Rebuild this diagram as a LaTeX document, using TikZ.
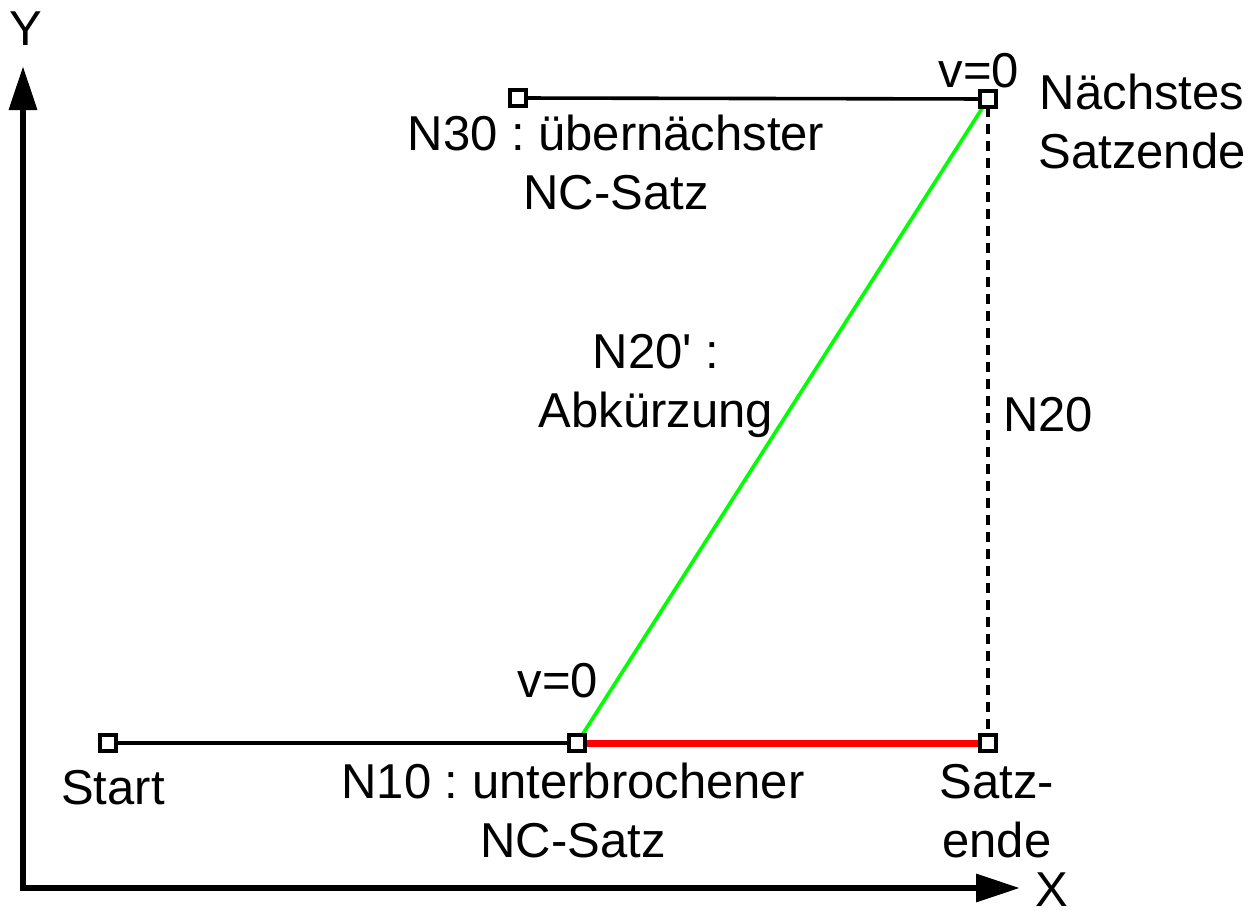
\documentclass[tikz,border=0pt]{standalone}
\usepackage{fontspec}
\setmainfont{Liberation Sans}
\usetikzlibrary{arrows.meta}
\frenchspacing
\begin{document}
\begin{tikzpicture}[x=1pt,y=-1pt,
  pt/.style={draw=black, fill=white, line width=3.6pt, minimum size=16pt, inner sep=0pt, outer sep=0pt, rectangle},
  lbl/.style={anchor=base, inner sep=0pt, align=center, font=\fontsize{49}{58.5}\selectfont\frenchspacing},
  blk/.style={line width=3.6pt, black},
  axis/.style={line width=6.5pt, line join=miter, {Triangle[length=44pt,width=27pt]}-{Triangle[length=44pt,width=27pt]}}
]
\useasboundingbox (0,0) rectangle (1255,910);
% axes
\coordinate (ytip) at (23,66);
\coordinate (corner) at (23,888);
\coordinate (xtip) at (1020,888);
\draw[axis] (ytip) -- (corner) -- (xtip);
\node[lbl] (ylab) at (26,45) {Y};
\node[lbl] (xlab) at (1052,906) {X};
% points
\node[pt] (start) at (108,743) {};
\node[pt] (n10) at (577,743) {};
\node[pt] (se) at (988,743) {};
\node[pt] (nse) at (988,99) {};
\node[pt] (n30) at (518,98) {};
% connectors
\draw[blk] (start) -- (n10);
\draw[red, line width=7pt] (n10) -- (se);
\draw[green, line width=3.6pt] (n10) -- (nse);
\draw[blk, dash pattern=on 10pt off 7pt] (nse) -- (se);
\draw[blk] (n30) -- (nse);
% redraw squares on top
\node[pt] at (start) {};
\node[pt] at (n10) {};
\node[pt] at (se) {};
\node[pt] at (nse) {};
\node[pt] at (n30) {};
% labels
\node[lbl] (lstart) at (113,804) {Start};
\node[lbl] (ln10) at (573,857) {N10 : unterbrochener\\NC-Satz};
\node[lbl] (lse) at (997,857) {Satz-\\ende};
\node[lbl] (lv1) at (558,697) {v=0};
\node[lbl] (lv2) at (979,87) {v=0};
\node[lbl] (lnse) at (1142,168) {Nächstes\\Satzende};
\node[lbl] (ln30) at (616,209) {N30 : übernächster\\NC-Satz};
\node[lbl] (ln20s) at (656,427) {N20\textquotesingle\ :\\Abkürzung};
\node[lbl, anchor=base west] (ln20) at (1003,431) {N20};
\end{tikzpicture}
\end{document}
